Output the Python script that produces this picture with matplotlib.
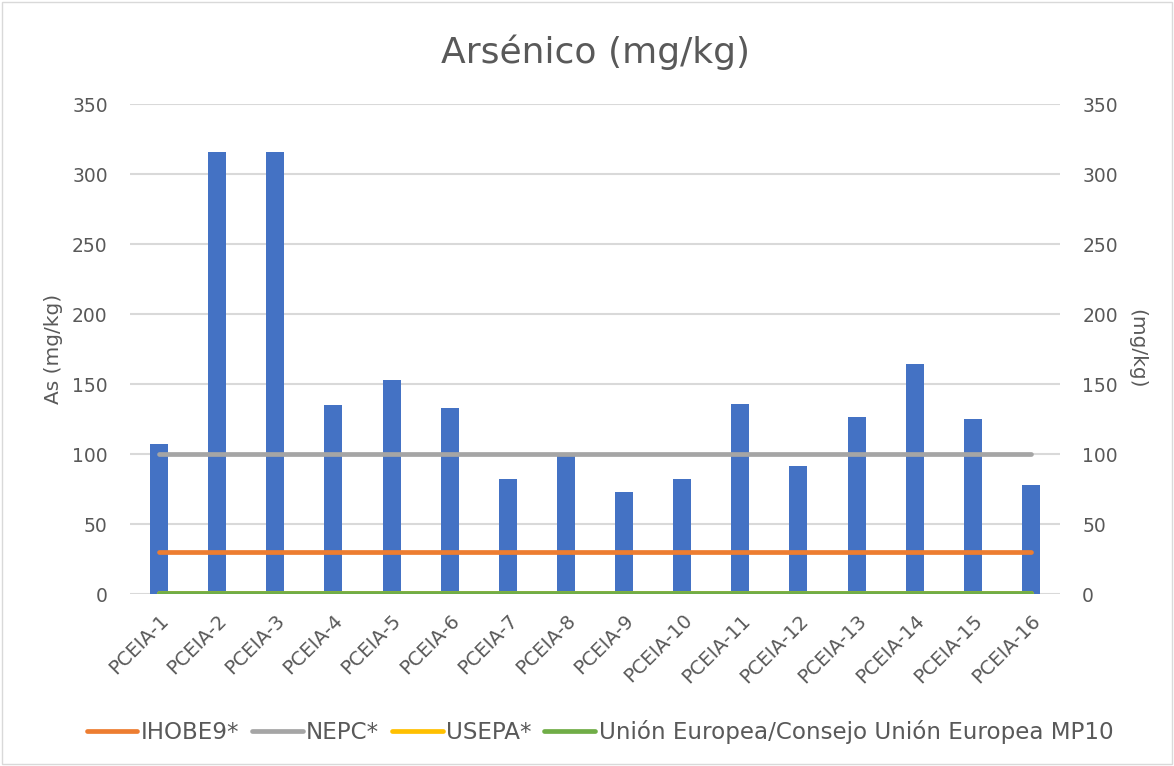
import matplotlib
matplotlib.use("Agg")
import matplotlib.pyplot as plt
import numpy as np
from matplotlib.patches import Rectangle

plt.rcParams['font.family'] = ['DejaVu Sans']

# Sampling points and arsenic concentrations (mg/kg)
puntos = [f"PCEIA-{i}" for i in range(1, 17)]
arsenico = [107, 316, 315.5, 135, 153, 133, 82.4, 99.3,
            72.6, 81.9, 135.5, 91.4, 126.2, 164.3, 124.8, 77.6]

# Reference limits (mg/kg)
ihobe = 30
nepc = 100
usepa = 0.39
ue_mp10 = 0.5

yticks = [0, 50, 100, 150, 200, 250, 300, 350]

TEXT = '#595959'
BLUE = '#4472C4'
ORANGE = '#ED7D31'
GRAY = '#A5A5A5'
YELLOW = '#FFC000'
GREEN = '#70AD47'

fig = plt.figure(figsize=(11.74, 7.66), dpi=100)
fig.patches.append(Rectangle((0.002, 0.002), 0.996, 0.996, transform=fig.transFigure,
                             fill=False, edgecolor='#D9D9D9', linewidth=1))

ax = fig.add_axes([0.1107, 0.2245, 0.7922, 0.6397])
x = np.arange(1, len(puntos) + 1)

ax.bar(x, arsenico, width=0.31, color=BLUE, zorder=2)
ax.set_xlim(0.5, len(puntos) + 0.5)
ax.set_ylim(0, 350)
ax.set_yticks(yticks)
ax.grid(axis='y', color='#D9D9D9', linewidth=1.5, zorder=0)
ax.set_axisbelow(True)
for s in ax.spines.values():
    s.set_visible(False)
ax.tick_params(axis='both', length=0, colors=TEXT)
ax.tick_params(axis='y', pad=16, labelsize=13.5)
ax.set_xticks(x)
ax.set_xticklabels(puntos, rotation=45, ha='right', rotation_mode='anchor',
                   fontsize=14, color=TEXT)
ax.tick_params(axis='x', pad=12)

ax2 = ax.twinx()
ax2.set_ylim(0, 350)
ax2.set_yticks(yticks)
for s in ax2.spines.values():
    s.set_visible(False)
ax2.tick_params(axis='y', length=0, colors=TEXT, labelsize=13.5, pad=16)

# Axis titles placed explicitly beside the tick labels
ax.text(-0.0817, 0.5, 'As (mg/kg)', transform=ax.transAxes, rotation=90,
        ha='center', va='center', fontsize=14.5, color=TEXT)
ax.text(1.0823, 0.5, '(mg/kg)', transform=ax.transAxes, rotation=270,
        ha='center', va='center', fontsize=14.5, color=TEXT)

lw = 3.4
l1, = ax2.plot(x, [ihobe] * len(x), color=ORANGE, lw=lw, solid_capstyle='round', zorder=3)
l2, = ax2.plot(x, [nepc] * len(x), color=GRAY, lw=lw, solid_capstyle='round', zorder=3)
l3, = ax2.plot(x, [usepa] * len(x), color=YELLOW, lw=lw, solid_capstyle='round', zorder=3)
l4, = ax2.plot(x, [ue_mp10] * len(x), color=GREEN, lw=lw, solid_capstyle='round', zorder=4)

fig.text(0.507, 0.932, 'Arsénico (mg/kg)', ha='center', va='center',
         fontsize=26, color=TEXT)

fig.legend([l1, l2, l3, l4],
           ['IHOBE9*', 'NEPC*', 'USEPA*', 'Unión Europea/Consejo Unión Europea MP10'],
           loc='center', bbox_to_anchor=(0.511, 0.044), ncol=4, frameon=False,
           fontsize=16.6, labelcolor=TEXT, handlelength=2.2, handletextpad=0.15,
           columnspacing=0.55)

fig.savefig('out.png', dpi=100)
